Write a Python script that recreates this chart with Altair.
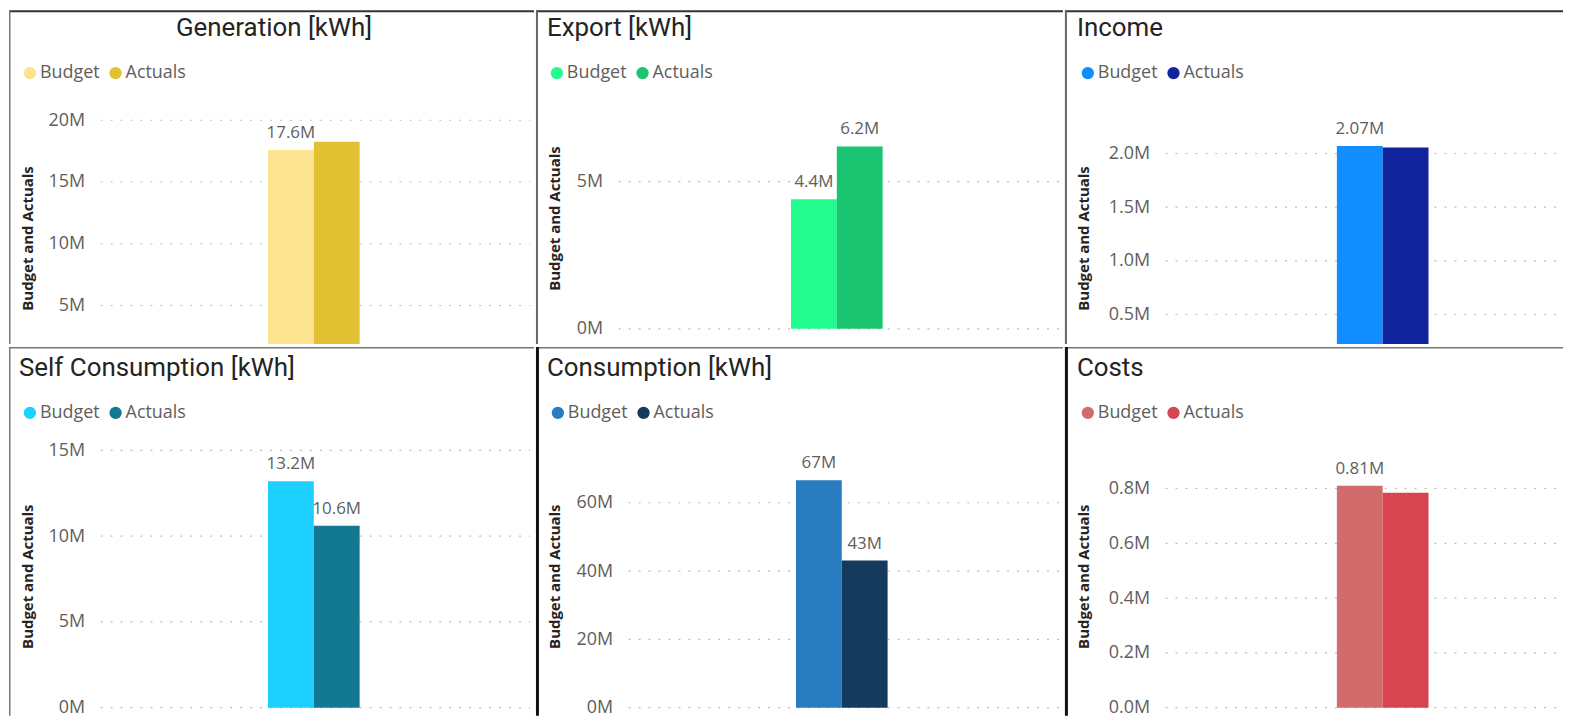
import altair as alt
import pandas as pd

series = ["Budget", "Actuals"]

titles = ["Generation [kWh]", "Export [kWh]", "Income",
          "Self Consumption [kWh]", "Consumption [kWh]", "Costs"]

# values in millions
gen_values = [17.6, 18.25]
exp_values = [4.4, 6.2]
inc_values = [2.07, 2.055]
self_values = [13.2, 10.6]
cons_values = [66.6, 43.1]
cost_values = [0.81, 0.785]

# data labels shown (Power BI hides overlapping ones)
gen_labels = ["17.6M", ""]
exp_labels = ["4.4M", "6.2M"]
inc_labels = ["2.07M", ""]
self_labels = ["13.2M", "10.6M"]
cons_labels = ["67M", "43M"]
cost_labels = ["0.81M", ""]

gen_ticks = [5, 10, 15, 20]
exp_ticks = [0, 5]
inc_ticks = [0.5, 1.0, 1.5, 2.0]
self_ticks = [0, 5, 10, 15]
cons_ticks = [0, 20, 40, 60]
cost_ticks = [0, 0.2, 0.4, 0.6, 0.8]

gen_colors = ["#FCE38F", "#E0C232"]
exp_colors = ["#22FC8F", "#1BC470"]
inc_colors = ["#118DFF", "#12239E"]
self_colors = ["#1ED0FF", "#137892"]
cons_colors = ["#2A7CC1", "#143B5E"]
cost_colors = ["#D26B6B", "#D64550"]

LABEL_FONT = "Open Sans"
TITLE_FONT = "Roboto"
GRAY = "#605E5C"
DARK = "#252423"


def one_row():
    return pd.DataFrame({"a": [0]})


def panel(title, values, labels, ticks, decimals, colors, lay):
    W, H, L = lay["w"], lay["h"], lay["grid_x"]
    df = pd.DataFrame({"series": series, "value": values, "label": labels})
    tdf = pd.DataFrame({"v": ticks})
    yscale = alt.Scale(domain=[0, ticks[-1]], range=[lay["y0"], lay["ytop"]],
                       nice=False, zero=False)
    xscale = alt.Scale(domain=series, range=[lay["bx"], lay["bx"] + 92],
                       paddingInner=0, paddingOuter=0)
    yaxis = alt.Axis(values=ticks, offset=-L, grid=False, domain=False, ticks=False,
                     tickSize=0, labelPadding=16,
                     labelExpr=f"format(datum.value, '.{decimals}f') + 'M'",
                     labelFont=LABEL_FONT, labelFontSize=18, labelColor=GRAY,
                     title="Budget and Actuals", titleX=19 - L, titleY=lay["ty"],
                     titleAngle=270, titleAlign="center", titleBaseline="middle",
                     titleFont=LABEL_FONT, titleFontSize=15, titleFontWeight="bold",
                     titleColor=DARK)
    grid = alt.Chart(tdf).mark_rule(strokeDash=[2, 8], color="#BEBCBA", strokeWidth=1.2).encode(
        y=alt.Y("v:Q", scale=yscale, axis=yaxis),
        x=alt.value(L), x2=alt.value(W - 4))
    bars = alt.Chart(df).mark_bar(clip=True).encode(
        x=alt.X("series:N", scale=xscale, axis=None, sort=series),
        y=alt.Y("value:Q", scale=yscale, axis=yaxis),
        color=alt.Color("series:N", sort=series,
                        scale=alt.Scale(domain=series, range=colors),
                        legend=alt.Legend(orient="none", legendX=lay["lx"], legendY=lay["ly"],
                                          direction="horizontal", title=None,
                                          symbolType="circle", symbolSize=154,
                                          symbolStrokeWidth=0, symbolOpacity=1,
                                          labelFont=LABEL_FONT, labelFontSize=18,
                                          labelColor=GRAY, labelOffset=1,
                                          columnPadding=7, padding=0)))
    text = alt.Chart(df).mark_text(dy=-12, baseline="alphabetic", font=LABEL_FONT,
                                   fontSize=17, color=GRAY).encode(
        x=alt.X("series:N", scale=xscale, axis=None, sort=series),
        y=alt.Y("value:Q", scale=yscale, axis=yaxis),
        text="label:N")
    ttl = alt.Chart(pd.DataFrame({"t": [title]})).mark_text(
        font=TITLE_FONT, fontSize=26, fontWeight="normal", color=DARK, baseline="alphabetic",
        align=lay["talign"]).encode(
        text="t:N", x=alt.value(lay["tx"]), y=alt.value(lay["tyb"]))
    layers = [grid, bars, text, ttl]
    # panel borders
    top = alt.Chart(one_row()).mark_rule(color=lay["top_color"], strokeWidth=lay["top_w"]).encode(
        x=alt.value(0), x2=alt.value(W), y=alt.value(lay["top_w"] / 2))
    left = alt.Chart(one_row()).mark_rule(color=lay["left_color"], strokeWidth=lay["left_w"]).encode(
        x=alt.value(lay["left_w"] / 2), y=alt.value(0), y2=alt.value(H))
    layers += [top, left]
    return alt.layer(*layers).properties(width=W, height=H).resolve_scale(
        x="shared", y="shared")


TOP_H = 335
BOT_H = 370

lay1 = dict(w=527, h=TOP_H, grid_x=92, y0=358.3, ytop=110.3, bx=260, ty=228.5,
            lx=12, ly=54, tx=266, tyb=26, talign="center",
            top_color="#333333", top_w=2, left_color="#777777", left_w=1.5)
lay2 = dict(w=529, h=TOP_H, grid_x=83, y0=319.7, ytop=172, bx=256, ty=208.5,
            lx=12, ly=54, tx=11, tyb=26, talign="left",
            top_color="#333333", top_w=2, left_color="#666666", left_w=2)
lay3 = dict(w=500, h=TOP_H, grid_x=101, y0=359.2, ytop=143.7, bx=273, ty=228.5,
            lx=14, ly=54, tx=12, tyb=26, talign="left",
            top_color="#333333", top_w=2, left_color="#666666", left_w=2)
lay4 = dict(w=527, h=BOT_H, grid_x=92, y0=362, ytop=103.7, bx=260, ty=230,
            lx=12, ly=57, tx=10, tyb=29, talign="left",
            top_color="#777777", top_w=1.5, left_color="#777777", left_w=1.5)
lay5 = dict(w=529, h=BOT_H, grid_x=93, y0=362, ytop=156.3, bx=261, ty=230,
            lx=13, ly=57, tx=11, tyb=29, talign="left",
            top_color="#777777", top_w=1.5, left_color="#111111", left_w=3)
lay6 = dict(w=500, h=BOT_H, grid_x=101, y0=362, ytop=142, bx=273, ty=230,
            lx=14, ly=57, tx=12, tyb=29, talign="left",
            top_color="#777777", top_w=1.5, left_color="#111111", left_w=3)

p1 = panel(titles[0], gen_values, gen_labels, gen_ticks, 0, gen_colors, lay1)
p2 = panel(titles[1], exp_values, exp_labels, exp_ticks, 0, exp_colors, lay2)
p3 = panel(titles[2], inc_values, inc_labels, inc_ticks, 1, inc_colors, lay3)
p4 = panel(titles[3], self_values, self_labels, self_ticks, 0, self_colors, lay4)
p5 = panel(titles[4], cons_values, cons_labels, cons_ticks, 0, cons_colors, lay5)
p6 = panel(titles[5], cost_values, cost_labels, cost_ticks, 1, cost_colors, lay6)


def row(*ps):
    return alt.hconcat(*ps, spacing=0).resolve_scale(
        x="independent", y="independent", color="independent").resolve_legend(color="independent")


chart = alt.vconcat(row(p1, p2, p3), row(p4, p5, p6), spacing=0).resolve_scale(
    x="independent", y="independent", color="independent").resolve_legend(
    color="independent").properties(padding=0, background="white").configure_view(strokeWidth=0)

chart.save("out.html", embed_options={"renderer": "svg", "actions": False})
